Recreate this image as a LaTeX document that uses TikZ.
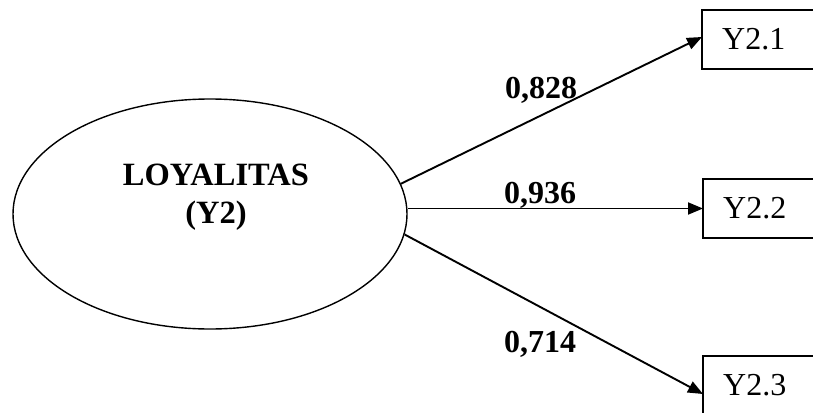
\documentclass[tikz,border=0pt]{standalone}
\usepackage{fontspec}
\setmainfont{Liberation Serif}
\usetikzlibrary{arrows.meta,shapes.geometric}
\begin{document}
\begin{tikzpicture}[x=1pt,y=-1pt,
  every node/.style={font=\fontsize{32}{38}\selectfont},
  latent/.style={draw, ellipse, line width=1.4pt, minimum width=394pt, minimum height=230pt, inner sep=0pt},
  heading/.style={anchor=base, font=\fontsize{32.5}{38}\selectfont\bfseries, inner sep=0pt},
  indicator/.style={anchor=west, minimum height=59pt, minimum width=150pt,
    text width=110pt, align=left, inner xsep=20pt, inner ysep=0pt},
  frame/.style={line width=1.6pt},
  loading/.style={anchor=base west, font=\fontsize{32}{38}\selectfont\bfseries, inner sep=0pt},
  path/.style={line width=1.9pt, -{Triangle[length=15pt,width=12pt]}}]
\useasboundingbox (0,0) rectangle (813,412);
\begin{scope}
\clip (0,0) rectangle (813,412);
% latent construct
\node[latent] (L) at (210,214) {};
\node[heading] (t1) at (216,185) {LOYALITAS};
\node[heading] (t2) at (216,223) {(Y2)};
% indicators (boxes run past the right edge)
\node[indicator] (b1) at (702,39.5) {Y2.1};
\node[indicator] (b2) at (703,208.5) {Y2.2};
\node[indicator] (b3) at (703,385.5) {Y2.3};
\foreach \b in {b1,b2,b3}
  \draw[frame] (\b.north east) -- (\b.north west) -- (\b.south west) -- (\b.south east);
% loading paths
\draw[path] (L.9.6) -- ([yshift=2.5pt]b1.west);
\draw[path] (b2.west -| L.east) -- (b2.west);
\draw[path] (L.-6.2) -- ([yshift=-8.5pt]b3.west);
% loading values
\node[loading] (l1) at (505,98) {0,828};
\node[loading] (l2) at (504,203) {0,936};
\node[loading] (l3) at (504,352) {0,714};
\end{scope}
\end{tikzpicture}
\end{document}
